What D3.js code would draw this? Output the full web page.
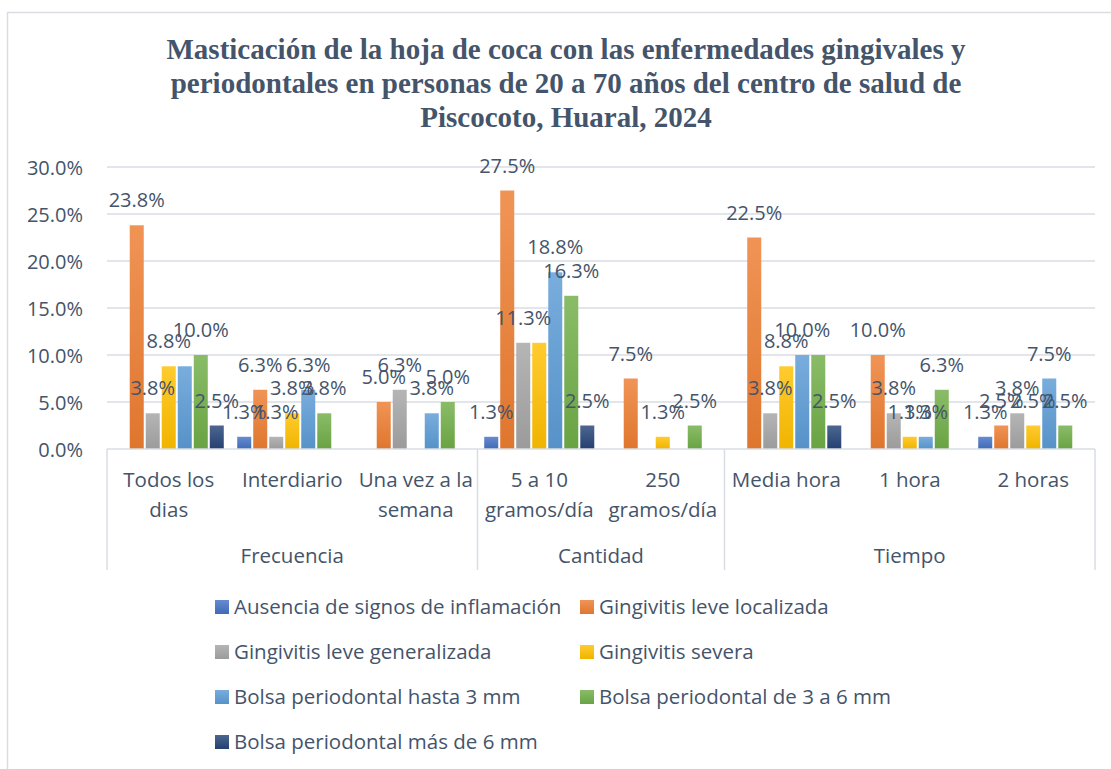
<!DOCTYPE html>
<html>
<head>
<meta charset="utf-8">
<script src="https://cdn.jsdelivr.net/npm/d3@7"></script>
<style>
  html, body { margin: 0; padding: 0; background: #ffffff; }
  svg { display: block; }
</style>
</head>
<body>
<svg id="chart" width="1111" height="769"></svg>
<script>
// ---------- DATA ----------
const titleLines = [
  "Masticación de la hoja de coca con las enfermedades gingivales y",
  "periodontales en personas de 20 a 70 años del centro de salud de",
  "Piscocoto, Huaral, 2024"
];
const categories = ["Todos los dias", "Interdiario", "Una vez a la semana", "5 a 10 gramos/día", "250 gramos/día", "Media hora", "1 hora", "2 horas"];
const categoryLines = [["Todos los", "dias"], ["Interdiario"], ["Una vez a la", "semana"], ["5 a 10", "gramos/día"], ["250", "gramos/día"], ["Media hora"], ["1 hora"], ["2 horas"]];
const groups = ["Frecuencia", "Cantidad", "Tiempo"];
const groupSizes = [3, 2, 3];
const seriesNames = [
  "Ausencia de signos de inflamación",
  "Gingivitis leve localizada",
  "Gingivitis leve generalizada",
  "Gingivitis severa",
  "Bolsa periodontal hasta 3 mm",
  "Bolsa periodontal de 3 a 6 mm",
  "Bolsa periodontal más de 6 mm"
];
const ausencia         = [null, 1.3, null, 1.3, null, null, null, 1.3];
const leveLocalizada   = [23.8, 6.3, 5.0, 27.5, 7.5, 22.5, 10.0, 2.5];
const leveGeneralizada = [3.8, 1.3, 6.3, 11.3, null, 3.8, 3.8, 3.8];
const severa           = [8.8, 3.8, null, 11.3, 1.3, 8.8, 1.3, 2.5];
const bolsaHasta3      = [8.8, 6.3, 3.8, 18.8, null, 10.0, 1.3, 7.5];
const bolsa3a6         = [10.0, 3.8, 5.0, 16.3, 2.5, 10.0, 6.3, 2.5];
const bolsaMas6        = [2.5, null, null, 2.5, null, 2.5, null, null];
const seriesValues = [ausencia, leveLocalizada, leveGeneralizada, severa, bolsaHasta3, bolsa3a6, bolsaMas6];
const seriesColors = ["#4472C4", "#ED7D31", "#A5A5A5", "#FFC000", "#5B9BD5", "#70AD47", "#264478"];
const yTicks = [0, 5, 10, 15, 20, 25, 30];
// data labels that the original chart does not display (series index, category index)
const hiddenLabels = [[4, 0], [3, 3], [5, 5]];

// ---------- LAYOUT ----------
const svg = d3.select("#chart");
const textColor = "#44546A";
const lineColor = "#D9DDE3";
const font = "'Open Sans', 'Noto Sans', sans-serif";
const plot = { left: 107, right: 1095, top: 167, bottom: 449 };

// outer frame
svg.append("rect")
  .attr("x", 7.5).attr("y", 12.5).attr("width", 1115).attr("height", 780)
  .attr("fill", "#fff").attr("stroke", lineColor).attr("stroke-width", 1.5);

// gradients
const defs = svg.append("defs");
seriesColors.forEach((c, i) => {
  const g = defs.append("linearGradient").attr("id", "grad" + i)
    .attr("x1", 0).attr("y1", 0).attr("x2", 0).attr("y2", 1);
  g.append("stop").attr("offset", "0%").attr("stop-color", d3.interpolateRgb(c, "#ffffff")(0.18));
  g.append("stop").attr("offset", "100%").attr("stop-color", d3.interpolateRgb(c, "#000000")(0.06));
});

// title
svg.append("g").selectAll("text").data(titleLines).join("text")
  .attr("x", 566).attr("y", (d, i) => 59 + i * 34)
  .attr("text-anchor", "middle")
  .attr("font-family", "'Liberation Serif', 'Times New Roman', serif")
  .attr("font-weight", "bold").attr("font-size", 29)
  .attr("fill", textColor)
  .text(d => d);

// scales
const y = d3.scaleLinear().domain([0, 30]).range([plot.bottom, plot.top]);
const x0 = d3.scaleBand().domain(categories).range([plot.left, plot.right]).padding(0);
const x1 = d3.scaleBand().domain(d3.range(seriesNames.length)).range([0, x0.bandwidth()])
  .paddingInner(0.125).paddingOuter(0.42);

// gridlines
svg.append("g").selectAll("line").data(yTicks.filter(t => t > 0)).join("line")
  .attr("x1", plot.left).attr("x2", plot.right)
  .attr("y1", d => y(d)).attr("y2", d => y(d))
  .attr("stroke", lineColor).attr("stroke-width", 1.5);

// y axis labels
const yAxis = d3.axisLeft(y).tickValues(yTicks).tickFormat(d => d3.format(".1f")(d) + "%").tickSize(0).tickPadding(0);
const yG = svg.append("g").attr("transform", `translate(83,0)`).call(yAxis);
yG.select(".domain").remove();
yG.selectAll("text").attr("font-family", font).attr("font-size", 20).attr("fill", textColor).attr("dy", "0.35em");

// bars
const barsG = svg.append("g");
seriesValues.forEach((vals, si) => {
  const data = vals.map((v, ci) => ({ v, c: categories[ci] })).filter(d => d.v !== null);
  barsG.append("g").selectAll("rect").data(data).join("rect")
    .attr("x", d => x0(d.c) + x1(si))
    .attr("width", x1.bandwidth())
    .attr("y", d => y(d.v))
    .attr("height", d => y(0) - y(d.v))
    .attr("fill", `url(#grad${si})`);
});

// x axis line and category box
svg.append("line").attr("x1", plot.left).attr("x2", plot.right)
  .attr("y1", plot.bottom).attr("y2", plot.bottom)
  .attr("stroke", lineColor).attr("stroke-width", 1.5);
let acc = 0;
const groupBounds = [];
groupSizes.forEach((n, gi) => {
  const start = x0(categories[acc]);
  const end = x0(categories[acc + n - 1]) + x0.bandwidth();
  groupBounds.push({ name: groups[gi], start, end });
  acc += n;
});
const dividers = [plot.left].concat(groupBounds.map(g => g.end));
svg.append("g").selectAll("line").data(dividers).join("line")
  .attr("x1", d => d).attr("x2", d => d)
  .attr("y1", plot.bottom).attr("y2", 570)
  .attr("stroke", lineColor).attr("stroke-width", 1.5);

// data labels (drawn after bars)
const isHidden = (si, ci) => hiddenLabels.some(h => h[0] === si && h[1] === ci);
const labelsG = svg.append("g");
seriesValues.forEach((vals, si) => {
  const data = vals.map((v, ci) => ({ v, c: categories[ci], ci }))
    .filter(d => d.v !== null && !isHidden(si, d.ci));
  labelsG.append("g").selectAll("text").data(data).join("text")
    .attr("x", d => x0(d.c) + x1(si) + x1.bandwidth() / 2)
    .attr("y", d => y(d.v) - 18)
    .attr("text-anchor", "middle")
    .attr("font-family", font).attr("font-size", 20)
    .attr("fill", textColor)
    .text(d => d3.format(".1f")(d.v) + "%");
});

// category labels
const catG = svg.append("g");
categories.forEach((c, ci) => {
  const t = catG.append("text")
    .attr("x", x0(c) + x0.bandwidth() / 2)
    .attr("y", 487)
    .attr("text-anchor", "middle")
    .attr("font-family", font).attr("font-size", 20.5)
    .attr("fill", textColor);
  categoryLines[ci].forEach((ln, li) => {
    t.append("tspan").attr("x", x0(c) + x0.bandwidth() / 2).attr("dy", li === 0 ? 0 : 30).text(ln);
  });
});

// group labels
svg.append("g").selectAll("text").data(groupBounds).join("text")
  .attr("x", d => (d.start + d.end) / 2).attr("y", 563)
  .attr("text-anchor", "middle")
  .attr("font-family", font).attr("font-size", 20.5)
  .attr("fill", textColor)
  .text(d => d.name);

// legend
const legendPos = [
  [215, 607], [580, 607],
  [215, 652], [580, 652],
  [215, 697], [580, 697],
  [215, 742]
];
const legG = svg.append("g");
seriesNames.forEach((name, i) => {
  const [lx, ly] = legendPos[i];
  legG.append("rect").attr("x", lx).attr("y", ly - 7).attr("width", 14).attr("height", 14)
    .attr("fill", `url(#grad${i})`);
  legG.append("text").attr("x", lx + 19).attr("y", ly).attr("dy", "0.35em")
    .attr("font-family", font).attr("font-size", 20.5)
    .attr("fill", textColor).text(name);
});
</script>
</body>
</html>
